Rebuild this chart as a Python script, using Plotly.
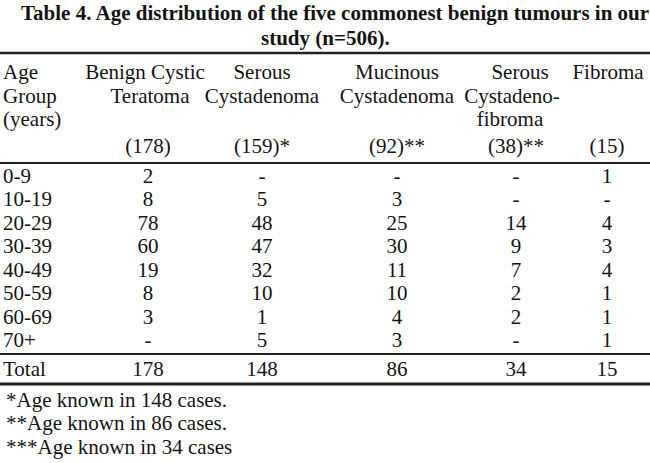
import plotly.graph_objs as go

# table content
title_lines = ["Table 4. Age distribution of the five commonest benign tumours in our",
               "study (n=506)."]
age_groups = ["0-9", "10-19", "20-29", "30-39", "40-49", "50-59", "60-69", "70+"]
header_age = ["Age", "Group", "(years)"]
header_cols = [["Benign Cystic", "Teratoma"],
               ["Serous", "Cystadenoma"],
               ["Mucinous", "Cystadenoma"],
               ["Serous", "Cystadeno-", "fibroma"],
               ["Fibroma"]]
header_n = ["(178)", "(159)*", "(92)**", "(38)**", "(15)"]
teratoma = [2, 8, 78, 60, 19, 8, 3, None]
serous_cyst = [None, 5, 48, 47, 32, 10, 1, 5]
mucinous_cyst = [None, 3, 25, 30, 11, 10, 4, 3]
serous_fibroma = [None, None, 14, 9, 7, 2, 2, None]
fibroma = [1, None, 4, 3, 4, 1, 1, 1]
totals = [178, 148, 86, 34, 15]
footnotes = ["*Age known in 148 cases.",
             "**Age known in 86 cases.",
             "***Age known in 34 cases"]

FONT = "Liberation Serif"
SIZE = 21
INK = "#141414"


def main():
    series = [teratoma, serous_cyst, mucinous_cyst, serous_fibroma, fibroma]
    col_x = [148, 262, 397, 516, 607]
    head_x = [[145, 150], [262, 262], [397, 397], [520, 512, 510], [608]]

    header_y = [74, 97.5, 121]
    n_y = 148
    row_y0, row_step = 177.5, 23.5
    row_ys = [row_y0 + i * row_step for i in range(len(age_groups))]
    total_y = 370.5
    foot_ys = [401.5, 425, 448.5]

    figure = go.Figure()

    # age column
    add_text(figure, [3] * 3, header_y, header_age, "middle right")
    add_text(figure, [3] * len(age_groups), row_ys, age_groups, "middle right")
    add_text(figure, [3], [total_y], ["Total"], "middle right")

    for i, col in enumerate(series):
        heads = header_cols[i]
        add_text(figure, head_x[i], header_y[:len(heads)], heads)
        add_text(figure, [col_x[i]], [n_y], [header_n[i]])
        labels = ["-" if v is None else str(v) for v in col]
        add_text(figure, [col_x[i]] * len(col), row_ys, labels)
        add_text(figure, [col_x[i]], [total_y], [str(totals[i])])

    add_text(figure, [6] * 3, foot_ys, footnotes, "middle right")

    # rules
    for y, w in [(53, 2.5), (163, 2.2), (354, 2), (384, 2.8)]:
        figure.add_shape(type="line", x0=0, x1=650, y0=y, y1=y, xref="x", yref="y",
                         line=dict(color="#222", width=w))

    figure.add_annotation(x=335, y=13, xref="x", yref="y", text="<b>" + title_lines[0] + "</b>",
                          showarrow=False, font=dict(family=FONT, size=21, color=INK))
    figure.add_annotation(x=325, y=38, xref="x", yref="y", text="<b>" + title_lines[1] + "</b>",
                          showarrow=False, font=dict(family=FONT, size=21, color=INK))

    figure.update_layout(
        width=650, height=463, margin=dict(l=0, r=0, t=0, b=0),
        paper_bgcolor="white", plot_bgcolor="white", showlegend=False,
        xaxis=dict(range=[0, 650], visible=False, fixedrange=True),
        yaxis=dict(range=[463, 0], visible=False, fixedrange=True),
    )
    # drop the default page margin so the table sits at the window edge
    figure.write_html("out.html", config=dict(displayModeBar=False),
                      post_script="document.body.style.margin = '0';")


def add_text(figure, xs, ys, texts, position="middle center"):
    figure.add_traces(go.Scatter(x=xs, y=ys, text=texts, mode="text", textposition=position,
                                 textfont=dict(family=FONT, size=SIZE, color=INK), hoverinfo="skip",
                                 cliponaxis=False))


if __name__ == '__main__':
    main()
